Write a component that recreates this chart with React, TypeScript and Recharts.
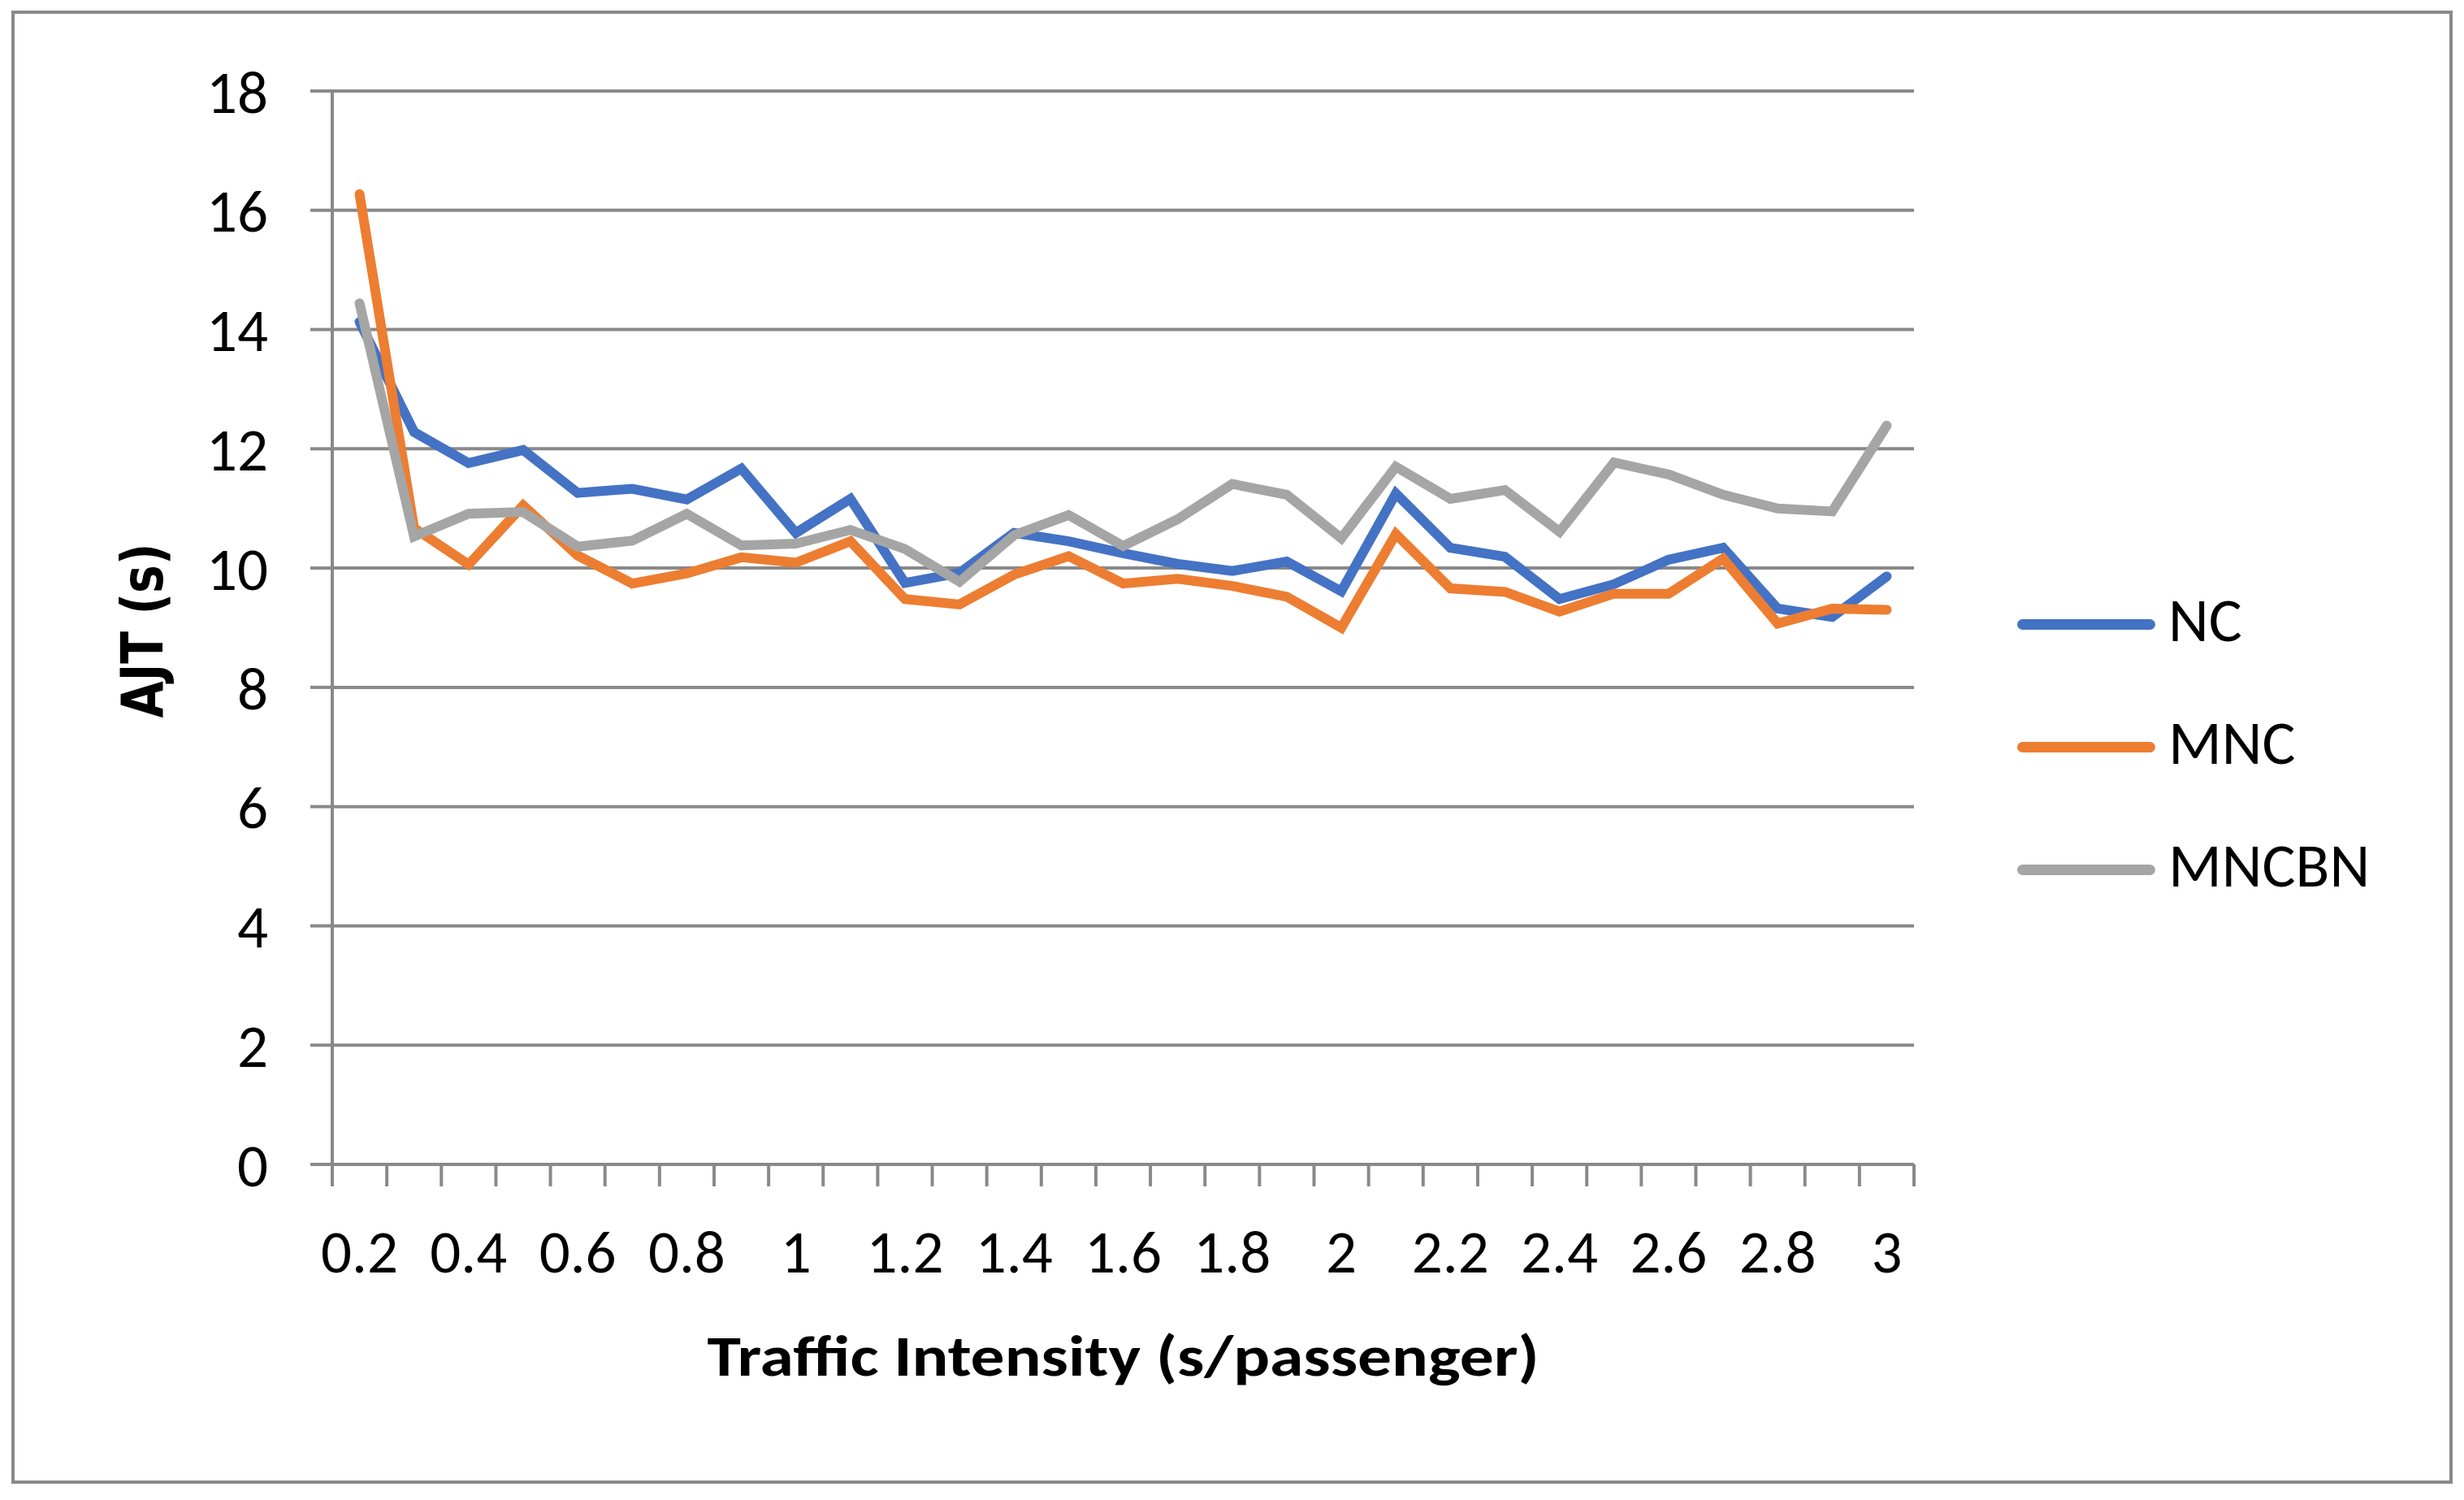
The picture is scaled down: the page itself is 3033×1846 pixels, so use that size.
import { LineChart, Line, XAxis, YAxis, CartesianGrid, Legend } from 'recharts';

// traffic intensity categories (s/passenger)
const xValues = [
    0.2, 0.3, 0.4, 0.5, 0.6, 0.7, 0.8, 0.9, 1.0, 1.1, 1.2, 1.3, 1.4, 1.5, 1.6,
    1.7, 1.8, 1.9, 2.0, 2.1, 2.2, 2.3, 2.4, 2.5, 2.6, 2.7, 2.8, 2.9, 3.0,
];
const xLabelValues = [0.2, 0.4, 0.6, 0.8, 1, 1.2, 1.4, 1.6, 1.8, 2, 2.2, 2.4, 2.6, 2.8, 3];
const yTicks = [0, 2, 4, 6, 8, 10, 12, 14, 16, 18];

const ncValues = [
    14.13, 12.28, 11.76, 11.98, 11.26, 11.33, 11.15, 11.67, 10.59, 11.16, 9.75, 9.92, 10.59, 10.45, 10.25,
    10.07, 9.95, 10.11, 9.61, 11.25, 10.34, 10.19, 9.48, 9.73, 10.14, 10.34, 9.32, 9.18, 9.86,
];
const mncValues = [
    16.27, 10.67, 10.06, 11.05, 10.21, 9.74, 9.91, 10.18, 10.09, 10.45, 9.48, 9.39, 9.89, 10.2, 9.74,
    9.82, 9.7, 9.52, 9.0, 10.57, 9.66, 9.6, 9.27, 9.57, 9.57, 10.16, 9.07, 9.32, 9.3,
];
const mncbnValues = [
    14.44, 10.53, 10.91, 10.94, 10.36, 10.46, 10.91, 10.38, 10.41, 10.64, 10.32, 9.77, 10.55, 10.89, 10.37,
    10.82, 11.41, 11.23, 10.5, 11.7, 11.16, 11.31, 10.61, 11.77, 11.57, 11.23, 11.0, 10.95, 12.39,
];

const seriesNames = ['NC', 'MNC', 'MNCBN'];
const seriesColors = ['#4472C4', '#ED7D31', '#A5A5A5'];

const W = 3033;
const H = 1846;
const Y_AXIS_W = 409;
const RIGHT = 677;
const TOP = 112;
const X_AXIS_H = 413;
const PLOT_W = W - Y_AXIS_W - RIGHT;
const GRID = '#898989';
const FONT = 'Carlito, Calibri, Lato, sans-serif';
const TICK_SIZE = 75;

const data = xValues.map((x, i) => ({
    x,
    NC: ncValues[i],
    MNC: mncValues[i],
    MNCBN: mncbnValues[i],
}));

// tick marks sit between the categories, like Excel
const xBoundaries = [
    ...xValues.map((v) => +(v - 0.05).toFixed(2)),
    +(xValues[xValues.length - 1] + 0.05).toFixed(2),
];
const halfCat = PLOT_W / xValues.length / 2;

function XTick({ x, y, payload }: any) {
    const center = +(payload.value + 0.05).toFixed(2);
    const show = xLabelValues.some((v) => Math.abs(v - center) < 1e-6);
    if (!show) return <g />;
    return (
        <text x={x + halfCat} y={y} dy={106} textAnchor="middle" fill="#000" fontSize={TICK_SIZE} fontFamily={FONT}>
            {String(center)}
        </text>
    );
}

function XTitle() {
    return (
        <text
            x={Y_AXIS_W + PLOT_W / 2}
            y={1693}
            textAnchor="middle"
            fill="#000"
            fontSize={71}
            fontWeight="bold"
            fontFamily={FONT}
            textLength={1024}
            lengthAdjust="spacingAndGlyphs"
        >
            Traffic Intensity (s/passenger)
        </text>
    );
}

function YTitle() {
    return (
        <text
            x={200}
            y={776}
            transform="rotate(-90 200 776)"
            textAnchor="middle"
            fill="#000"
            fontSize={72}
            fontWeight="bold"
            fontFamily="'DejaVu Sans', Verdana, sans-serif"
            textLength={215}
            lengthAdjust="spacingAndGlyphs"
        >
            AJT (s)
        </text>
    );
}

// legend rows kept in series order (NC, MNC, MNCBN)
function LegendBox() {
    return (
        <div style={{ display: 'flex', flexDirection: 'column' }}>
            {seriesNames.map((name, i) => (
                <div key={name} style={{ height: 151, display: 'flex', alignItems: 'center' }}>
                    <div style={{ width: 170, height: 13, borderRadius: 7, background: seriesColors[i] }} />
                    <span
                        style={{
                            marginLeft: 16,
                            fontSize: 77,
                            fontFamily: FONT,
                            lineHeight: 1,
                            color: '#000',
                            position: 'relative',
                            top: -5,
                        }}
                    >
                        {name}
                    </span>
                </div>
            ))}
        </div>
    );
}

export default function App() {
    return (
        <div style={{ position: 'absolute', left: 0, top: 0, width: W, height: H, background: '#fff' }}>
            <div
                style={{
                    position: 'absolute',
                    left: 14,
                    top: 13,
                    width: 3005,
                    height: 1813,
                    border: `4px solid ${GRID}`,
                    boxSizing: 'border-box',
                }}
            />
            <LineChart width={W} height={H} data={data} margin={{ top: TOP, right: RIGHT, left: 0, bottom: 0 }}>
                <CartesianGrid vertical={false} stroke={GRID} strokeWidth={4} />
                <XAxis
                    dataKey="x"
                    type="number"
                    domain={[xBoundaries[0], xBoundaries[xBoundaries.length - 1]]}
                    ticks={xBoundaries}
                    interval={0}
                    height={X_AXIS_H}
                    tickSize={27}
                    tickMargin={0}
                    tick={<XTick />}
                    axisLine={{ stroke: GRID, strokeWidth: 4 }}
                    tickLine={{ stroke: GRID, strokeWidth: 4 }}
                    label={<XTitle />}
                />
                <YAxis
                    domain={[0, 18]}
                    ticks={yTicks}
                    interval={0}
                    width={Y_AXIS_W}
                    tickSize={27}
                    tickMargin={52}
                    tick={{ fill: '#000', fontSize: TICK_SIZE, fontFamily: FONT }}
                    axisLine={{ stroke: GRID, strokeWidth: 4 }}
                    tickLine={{ stroke: GRID, strokeWidth: 4 }}
                    label={<YTitle />}
                />
                <Legend
                    layout="horizontal"
                    verticalAlign="middle"
                    align="center"
                    content={<LegendBox />}
                    wrapperStyle={{ left: 2483, top: 693, width: 520 }}
                />
                {seriesNames.map((name, i) => (
                    <Line
                        key={name}
                        type="linear"
                        dataKey={name}
                        name={name}
                        stroke={seriesColors[i]}
                        strokeWidth={12}
                        strokeLinecap="round"
                        dot={false}
                        activeDot={false}
                        isAnimationActive={false}
                    />
                ))}
            </LineChart>
        </div>
    );
}
